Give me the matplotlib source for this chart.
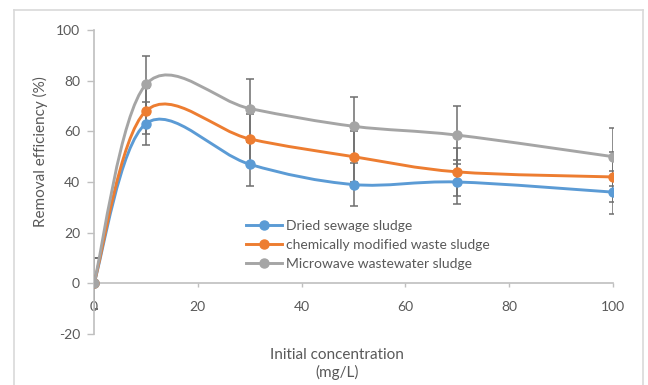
import numpy as np
import matplotlib
matplotlib.use("Agg")
import matplotlib.pyplot as plt
from matplotlib.path import Path
from matplotlib.patches import PathPatch
from matplotlib.lines import Line2D

plt.rcParams['font.family'] = ['Lato', 'DejaVu Sans']
plt.rcParams['axes.unicode_minus'] = False

conc = [0, 10, 30, 50, 70, 100]
dried = [0, 63, 47, 39, 40, 36]
chem = [0, 68, 57, 50, 44, 42]
micro = [0, 78.5, 69, 62, 58.5, 50]
err_dried = [10, 8.4, 8.7, 8.4, 8.5, 8.5]
err_chem = [10, 9.2, 10, 10, 9.6, 10]
err_micro = [10, 11.3, 11.5, 11.6, 11.5, 11.5]

names = ['Dried sewage sludge', 'chemically modified waste sludge',
         'Microwave wastewater sludge']
colors = ['#5B9BD5', '#ED7D31', '#A5A5A5']
text_c = '#595959'
axis_c = '#BFBFBF'


def smooth_path(xs, ys):
    # Excel-style smoothed line as cubic bezier segments
    p = np.column_stack([xs, ys]).astype(float)
    n = len(p)
    verts = [p[0]]
    codes = [Path.MOVETO]
    for i in range(n - 1):
        p0 = p[i - 1] if i > 0 else p[i]
        p3 = p[i + 2] if i + 2 < n else p[i + 1]
        c1 = p[i] + (p[i + 1] - p0) / 6
        c2 = p[i + 1] - (p3 - p[i]) / 6
        verts += [c1, c2, p[i + 1]]
        codes += [Path.CURVE4] * 3
    return Path(verts, codes)


fig = plt.figure(figsize=(6.48, 3.85), dpi=100)
ax = fig.add_axes([94 / 648, 1 - 334 / 385, (613 - 94) / 648, (334 - 30) / 385])

# outer chart frame
for xs_, ys_ in [([14 / 648, 14 / 648], [0, 1 - 10 / 385]),
                 ([14 / 648, 643 / 648], [1 - 10 / 385, 1 - 10 / 385]),
                 ([643 / 648, 643 / 648], [0, 1 - 10 / 385])]:
    fig.add_artist(Line2D(xs_, ys_, transform=fig.transFigure, color='#D9D9D9', lw=1.2))

series = [dried, chem, micro]
errs = [err_dried, err_chem, err_micro]
handles = []
for k, (ys, es) in enumerate(zip(series, errs)):
    ax.errorbar(conc, ys, yerr=es, fmt='none', ecolor='#6E6E6E', elinewidth=1.1,
                capsize=3, capthick=1.1, zorder=2 + k * 0.1)
    ax.add_patch(PathPatch(smooth_path(conc, ys), facecolor='none',
                           edgecolor=colors[k], lw=2.1, zorder=3 + k * 0.1))
    ax.plot(conc, ys, 'o', color=colors[k], ms=6.5, zorder=3.05 + k * 0.1)
    handles.append(Line2D([], [], color=colors[k], lw=2.1, marker='o', ms=6.5))

ax.set_xlim(0, 100)
ax.set_ylim(-20, 100)
ax.set_xticks(range(0, 101, 20))
ax.set_yticks(range(-20, 101, 20))
ax.spines['top'].set_visible(False)
ax.spines['right'].set_visible(False)
ax.spines['bottom'].set_position(('data', 0))
for s in ['left', 'bottom']:
    ax.spines[s].set_color(axis_c)
    ax.spines[s].set_linewidth(1.2)
ax.tick_params(axis='both', colors=axis_c, labelcolor=text_c, labelsize=10, width=1)
ax.tick_params(axis='y', length=5, pad=5)
ax.tick_params(axis='x', length=3, pad=10)

fig.text(40 / 648, 1 - 152 / 385, 'Removal efficiency (%)', rotation=90,
         ha='center', va='center', color=text_c, fontsize=11)
fig.text(337 / 648, 1 - 364 / 385, 'Initial concentration\n(mg/L)', ha='center',
         va='center', multialignment='center', color=text_c, fontsize=11,
         linespacing=1.25)

leg = ax.legend(handles, names, loc='upper left', bbox_to_anchor=(246 / 648, 1 - 220 / 385),
                bbox_transform=fig.transFigure, frameon=False, fontsize=10,
                handlelength=2.6, handletextpad=0.3, labelspacing=0.5,
                borderaxespad=0, borderpad=0)
for t in leg.get_texts():
    t.set_color(text_c)

fig.savefig('out.png', dpi=100)
